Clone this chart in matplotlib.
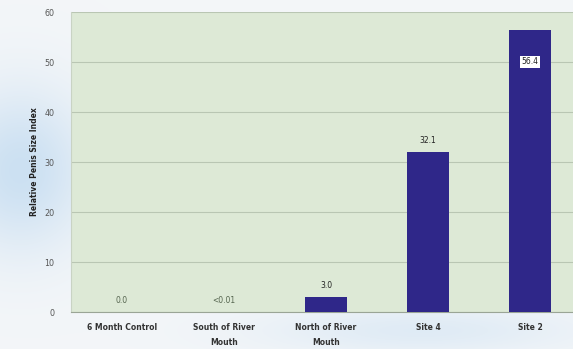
import matplotlib
matplotlib.use("Agg")
import matplotlib.pyplot as plt
import numpy as np

# 지점별 상대 지수
sites = ["6 Month Control", "South of River\nMouth", "North of River\nMouth", "Site 4", "Site 2"]
values = [0.0, 0.005, 3.0, 32.1, 56.4]
value_labels = ["0.0", "<0.01", "3.0", "32.1", "56.4"]
y_ticks = [0, 10, 20, 30, 40, 50, 60]

BAR = "#2f2789"
PLOT_BG = "#dde9d6"
GRID = "#b9c6b3"

fig = plt.figure(figsize=(5.73, 3.49), dpi=100)
fig.patch.set_facecolor("#f3f6f9")

# 배경의 옅은 푸른 얼룩
bg = fig.add_axes([0, 0, 1, 1], zorder=-1)
yy, xx = np.mgrid[0:349, 0:573]
haze = np.exp(-(((xx - 20) / 70.0) ** 2 + ((yy - 170) / 80.0) ** 2))
haze += 0.5 * np.exp(-(((xx - 420) / 160.0) ** 2 + ((yy - 330) / 25.0) ** 2))
base = np.array([0.955, 0.965, 0.975])
blue = np.array([0.80, 0.88, 0.95])
img = base + (blue - base) * np.clip(haze, 0, 1)[..., None]
bg.imshow(img, aspect="auto", extent=[0, 1, 0, 1])
bg.axis("off")

ax = fig.add_axes([0.1239, 0.106, 0.89, 0.8596])
ax.set_facecolor(PLOT_BG)
x = np.arange(len(sites))
ax.bar(x, values, width=0.41, color=BAR, zorder=3)

for i, (v, lab) in enumerate(zip(values, value_labels)):
    if i == len(values) - 1:
        ax.annotate(lab, (i, v), xytext=(0, -23), textcoords="offset points",
                    ha="center", va="center", fontsize=5.5, color="#222222", zorder=4,
                    bbox=dict(boxstyle="square,pad=0.15", fc="white", ec="none"))
    else:
        ax.annotate(lab, (i, v), xytext=(0, 8), textcoords="offset points",
                    ha="center", va="center", fontsize=5.5,
                    color="#222222" if v > 1 else "#55654f", zorder=4)

ax.set_xlim(-0.5, len(sites) - 0.5)
ax.set_ylim(0, 60)
ax.set_yticks(y_ticks)
ax.set_yticklabels([str(t) for t in y_ticks], fontsize=5.8, color="#555555")
ax.set_xticks(x)
ax.set_xticklabels(sites, fontsize=5.5, fontweight="bold", color="#333333", linespacing=1.9)
ax.tick_params(axis="x", length=0, pad=8)
ax.tick_params(axis="y", length=0, pad=12)
ax.yaxis.grid(True, color=GRID, linewidth=0.8, zorder=0)
ax.set_axisbelow(True)
for side in ("top", "right"):
    ax.spines[side].set_visible(False)
ax.spines["left"].set_color("#c9d3c4")
ax.spines["bottom"].set_color("#9aa596")

ax.set_ylabel("Relative Penis Size Index", fontsize=5.5, fontweight="bold",
              color="#222222", labelpad=4)

fig.savefig("out.png", dpi=100, facecolor=fig.get_facecolor())
